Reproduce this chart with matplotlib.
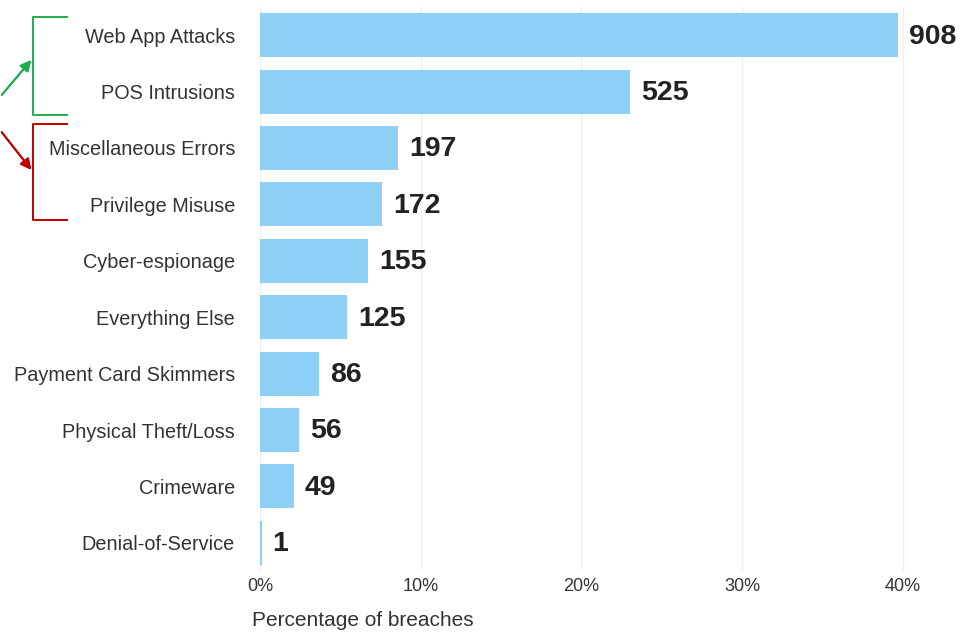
import matplotlib.pyplot as plt
from matplotlib.lines import Line2D

plt.rcParams['font.family'] = ['Liberation Sans', 'DejaVu Sans']

categories = ['Web App Attacks', 'POS Intrusions', 'Miscellaneous Errors',
              'Privilege Misuse', 'Cyber-espionage', 'Everything Else',
              'Payment Card Skimmers', 'Physical Theft/Loss', 'Crimeware',
              'Denial-of-Service']
counts = [908, 525, 197, 172, 155, 125, 86, 56, 49, 1]
percent = [39.7, 23.0, 8.6, 7.6, 6.7, 5.4, 3.7, 2.4, 2.1, 0.1]
xticks = [0, 10, 20, 30, 40]

BAR_COLOR = '#8dcff5'
W, H = 965, 641

fig = plt.figure(figsize=(W / 100, H / 100), dpi=100)
ax = fig.add_axes([260 / W, 1 - 571 / H, 675 / W, 564 / H])

ypos = list(range(len(categories)))
ax.barh(ypos, percent, height=0.78, color=BAR_COLOR, zorder=2)
for y, p, c in zip(ypos, percent, counts):
    ax.annotate(str(c), (p, y), xytext=(8, -1), textcoords='offset points',
                ha='left', va='center', fontsize=20.5, fontweight='bold',
                color='#222222')

ax.set_xlim(0, 42)
ax.set_ylim(len(categories) - 0.5, -0.5)
ax.set_yticks(ypos)
ax.set_yticklabels(categories, fontsize=14.3, color='#333333')
ax.set_xticks(xticks)
ax.set_xticklabels([f'{t}%' for t in xticks], fontsize=13, color='#333333')
ax.tick_params(axis='y', length=0, pad=18)
ax.tick_params(axis='x', length=0, pad=5)
for s in ax.spines.values():
    s.set_visible(False)
ax.grid(axis='x', color='#eeeeee', linewidth=1, zorder=0)

fig.text(252 / W, 1 - 621 / H, 'Percentage of breaches', fontsize=15,
         color='#333333', ha='left', va='center')


def px(x, y):
    return x / W, 1 - y / H


def bracket(top, bottom, color):
    xs = [67, 33, 33, 67]
    ys = [top, top, bottom, bottom]
    fx, fy = zip(*[px(a, b) for a, b in zip(xs, ys)])
    fig.add_artist(Line2D(fx, fy, color=color, lw=1.4,
                          transform=fig.transFigure))


bracket(17, 115, '#1fae4f')
bracket(124, 220, '#c00000')

fig.add_artist(plt.annotate('', xy=px(33, 58), xytext=px(0, 97),
                            xycoords='figure fraction',
                            arrowprops=dict(arrowstyle='-|>', color='#1fae4f',
                                            lw=1.4, mutation_scale=16)))
fig.add_artist(plt.annotate('', xy=px(33, 172), xytext=px(0, 130),
                            xycoords='figure fraction',
                            arrowprops=dict(arrowstyle='-|>', color='#c00000',
                                            lw=1.4, mutation_scale=16)))

fig.savefig('out.png', dpi=100)
